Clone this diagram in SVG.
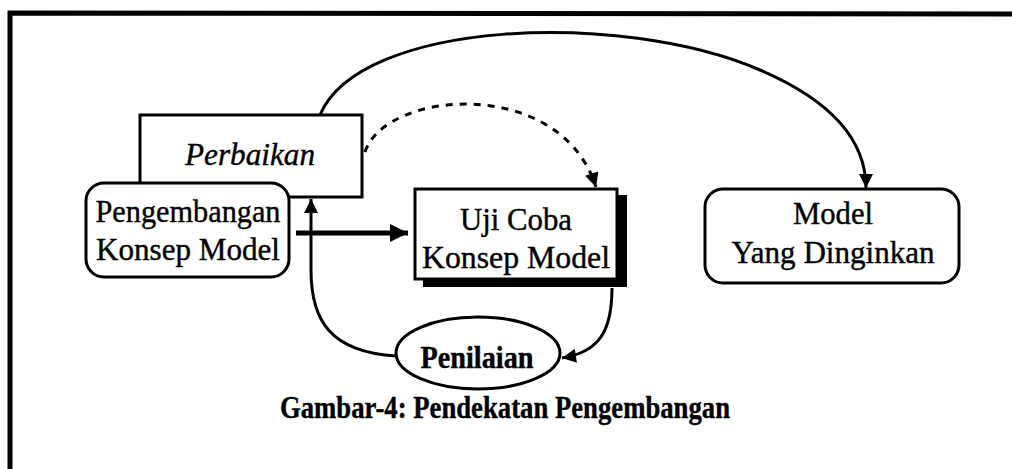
<svg xmlns="http://www.w3.org/2000/svg" width="1012" height="469" viewBox="0 0 1012 469">
<defs>
<style>
.box{fill:#fff;stroke:#000;stroke-width:3}
.t{font-family:"Liberation Serif","Times New Roman",serif;font-size:32px;fill:#000;stroke:#000;stroke-width:0.4;text-anchor:middle}
.c{fill:none;stroke:#000;stroke-width:3}
</style>
<marker id="ah" viewBox="0 0 10 10" refX="10" refY="5" markerUnits="userSpaceOnUse" markerWidth="16" markerHeight="14" orient="auto">
<path d="M0,0 L10,5 L0,10 z" fill="#000"/>
</marker>
<marker id="ahBig" viewBox="0 0 10 10" refX="10" refY="5" markerUnits="userSpaceOnUse" markerWidth="18" markerHeight="18" orient="auto">
<path d="M0,0 L10,5 L0,10 z" fill="#000"/>
</marker>
</defs>
<rect width="1012" height="469" fill="#fff"/>
<path d="M10 469 L10 13 L1012 14" fill="none" stroke="#000" stroke-width="5"/>

<g id="connectors">
<path class="c" d="M320 115 C360 20 620 10 760 70 C830 100 866 140 866 188" marker-end="url(#ah)"/>
<path class="c" d="M365 152 C385 90 560 75 596 187" stroke-dasharray="7 7" marker-end="url(#ah)"/>
<path d="M296 233 L408 233" fill="none" stroke="#000" stroke-width="5" marker-end="url(#ahBig)"/>
<path class="c" d="M396 356 C330 352 311 320 311 270 L311 199" marker-end="url(#ah)"/>
<path class="c" d="M612 288 C612 330 600 352 562 358" marker-end="url(#ah)"/>
</g>

<g id="perbaikan">
<rect class="box" x="140" y="115" width="222" height="82"/>
<text class="t" x="250" y="165" font-style="italic" textLength="130" lengthAdjust="spacingAndGlyphs">Perbaikan</text>
</g>

<g id="pengembangan">
<rect class="box" x="86" y="183" width="203" height="94" rx="18"/>
<text class="t" x="188" y="222" textLength="185" lengthAdjust="spacingAndGlyphs">Pengembangan</text>
<text class="t" x="188" y="260" textLength="184" lengthAdjust="spacingAndGlyphs">Konsep Model</text>
</g>

<g id="ujicoba">
<rect x="423" y="195" width="204" height="92" fill="#000"/>
<rect class="box" x="415" y="189" width="202" height="90"/>
<text class="t" x="516" y="230" textLength="112" lengthAdjust="spacingAndGlyphs">Uji Coba</text>
<text class="t" x="516" y="268" textLength="188" lengthAdjust="spacingAndGlyphs">Konsep Model</text>
</g>

<g id="model">
<rect class="box" x="705" y="189" width="254" height="94" rx="18"/>
<text class="t" x="833" y="224" textLength="80" lengthAdjust="spacingAndGlyphs">Model</text>
<text class="t" x="833" y="263" textLength="203" lengthAdjust="spacingAndGlyphs">Yang Dinginkan</text>
</g>

<g id="penilaian">
<ellipse class="box" cx="478" cy="353" rx="82" ry="36"/>
<text class="t" x="477" y="368" font-weight="bold" textLength="113" lengthAdjust="spacingAndGlyphs">Penilaian</text>
</g>

<text class="t" x="505" y="418" font-weight="bold" font-size="30" textLength="450" lengthAdjust="spacingAndGlyphs">Gambar-4: Pendekatan Pengembangan</text>
</svg>
